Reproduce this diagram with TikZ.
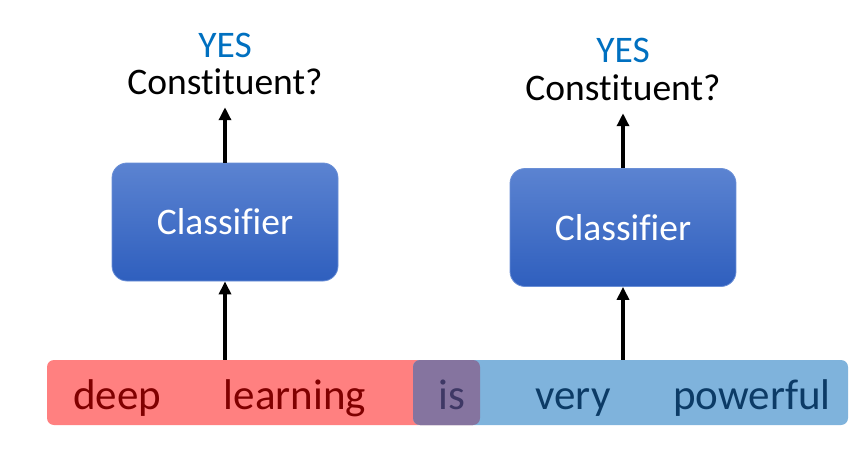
\documentclass[tikz,border=0pt]{standalone}
\usepackage{fontspec}
\setmainfont{Carlito}[Ligatures=NoCommon]
\usepackage{tikz}
\usetikzlibrary{arrows.meta, positioning}
\definecolor{boxtop}{HTML}{5B83D1}
\definecolor{boxbot}{HTML}{2F5FBE}
\definecolor{boxedge}{HTML}{6A8FD6}
\definecolor{yesblue}{HTML}{0070C0}
\definecolor{redbarc}{HTML}{FF8080}
\definecolor{bluebarc}{HTML}{7FB3DC}
\definecolor{overlapc}{HTML}{85749F}
\definecolor{redtxt}{HTML}{800000}
\definecolor{bluetxt}{HTML}{0C3B66}
\definecolor{istxt}{HTML}{3E3865}

\begin{document}
\begin{tikzpicture}[
  x=1pt, y=-1pt,
  font=\fontsize{37.5}{41}\selectfont,
  line cap=butt, line join=round,
  clf/.style={draw=boxedge, line width=0.8pt, rounded corners=15pt,
              top color=boxtop, bottom color=boxbot, text=white,
              minimum width=226pt, minimum height=118pt, inner sep=0pt},
  bar/.style={rounded corners=7pt, minimum height=65pt, inner sep=0pt},
  wrd/.style={font=\fontsize{43}{46}\selectfont, anchor=base, inner sep=0pt},
  ans/.style={text=yesblue, inner sep=0pt},
  qn/.style={inner sep=0pt},
  fl/.style={-{Triangle[length=13pt,width=12pt]}, draw=black, line width=3.5pt},
]
\useasboundingbox (0,0) rectangle (868,460);

% input sentence
\node[bar, fill=redbarc, minimum width=433pt]  (redbar)  at (263.5,392.5) {};
\node[bar, fill=bluebarc, minimum width=435pt] (bluebar) at (630.5,392.5) {};
\node[bar, fill=overlapc, minimum width=67pt]  (isbar)   at (446.5,392.5) {};

\node[wrd, text=redtxt]  (w1) at (117,409) {deep};
\node[wrd, text=redtxt]  (w2) at (295,409) {learning};
\node[wrd, text=istxt]   (w3) at (452,409) {is};
\node[wrd, text=bluetxt] (w4) at (573,409) {very};
\node[wrd, text=bluetxt] (w5) at (752,409) {powerful};

% classifiers
\node[clf] (clf1) at (225,222) {Classifier};
\node[clf] (clf2) at (623,227.5) {Classifier};

\node[ans] (yes1) at (225,45) {YES};
\node[qn]  (q1)   at (225,82) {Constituent?};
\node[ans] (yes2) at (623,50) {YES};
\node[qn]  (q2)   at (623,88) {Constituent?};

\draw[fl] (clf1 |- redbar.north) -- (clf1.south);
\draw[fl] (clf2 |- bluebar.north) -- (clf2.south);
\draw[fl] (clf1.north) -- ([yshift=-12pt]q1.south);
\draw[fl] (clf2.north) -- ([yshift=-12pt]q2.south);
\end{tikzpicture}
\end{document}
